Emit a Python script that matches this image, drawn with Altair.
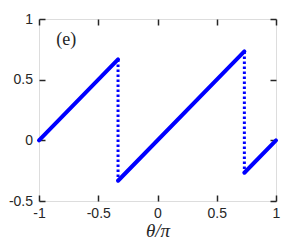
import altair as alt
import pandas as pd

# sawtooth segments (solid)
seg_id = [0, 0, 1, 1, 2, 2]
theta = [-1.0, -0.333, -0.333, 0.733, 0.733, 1.0]
value = [0.0, 0.667, -0.333, 0.733, -0.267, 0.0]
# jumps (dotted)
jump_theta = [-0.333, 0.733]
jump_top = [0.667, 0.733]
jump_bottom = [-0.333, -0.267]
x_ticks = [-1, -0.5, 0, 0.5, 1]
y_ticks = [-0.5, 0, 0.5, 1]
panel_label = ["(e)"]
label_x = [-0.77]
label_y = [0.83]

lines = pd.DataFrame({"seg": seg_id, "x": theta, "y": value})
jumps = pd.DataFrame({"x": jump_theta, "y": jump_top, "y2": jump_bottom})
lab = pd.DataFrame({"x": label_x, "y": label_y, "t": panel_label})

ink = "#262626"
blue = "#0000ff"
tick = 6
xs = alt.Scale(domain=[-1, 1], nice=False, zero=False)
ys = alt.Scale(domain=[-0.5, 1], nice=False, zero=False)

common = dict(tickSize=tick, offset=-tick, domain=False, grid=False,
              tickColor=ink, tickWidth=1.5, labelColor=ink,
              labelFont="Liberation Sans", labelFontSize=14,
              labelFlush=False, labelOverlap=False,
              labelExpr="toString(datum.value)")

x_bottom = alt.Axis(orient="bottom", values=x_ticks, labelPadding=5,
                    title="θ/π", titleFont="Liberation Serif", titleFontSize=19,
                    titleFontStyle="italic", titleFontWeight="normal",
                    titleColor=ink, titlePadding=1, **common)
y_left = alt.Axis(orient="left", values=y_ticks, labelPadding=6.5, title=None, **common)

x_top = alt.Axis(orient="top", values=x_ticks, tickSize=tick, offset=-tick,
                 domain=False, grid=False, labels=False, title=None,
                 tickColor=ink, tickWidth=1.5)
y_right = alt.Axis(orient="right", values=y_ticks, tickSize=tick, offset=-tick,
                   domain=False, grid=False, labels=False, title=None,
                   tickColor=ink, tickWidth=1.5)

solid = alt.Chart(lines).mark_line(color=blue, strokeWidth=4, strokeCap="round").encode(
    x=alt.X("x:Q", scale=xs, axis=x_bottom),
    y=alt.Y("y:Q", scale=ys, axis=y_left),
    detail="seg:N",
)

dotted = alt.Chart(jumps).mark_rule(color=blue, strokeWidth=3, strokeDash=[2.5, 2.5]).encode(
    x=alt.X("x:Q", scale=xs, axis=x_top),
    y=alt.Y("y:Q", scale=ys, axis=y_right),
    y2="y2:Q",
)

text = alt.Chart(lab).mark_text(font="Liberation Serif", fontSize=18, color=ink,
                                baseline="middle", align="center").encode(
    x=alt.X("x:Q", scale=xs, axis=None),
    y=alt.Y("y:Q", scale=ys, axis=None),
    text="t:N",
)

chart = alt.layer(solid, dotted, text).resolve_axis(
    x="independent", y="independent"
).properties(
    width=237, height=182,
    autosize=alt.AutoSizeParams(type="none"),
    padding={"left": 31, "top": 11, "right": 20, "bottom": 40},
).configure_view(stroke=ink, strokeWidth=1.5).configure(background="white")

chart.save("out.html", embed_options={"renderer": "svg", "actions": False})
